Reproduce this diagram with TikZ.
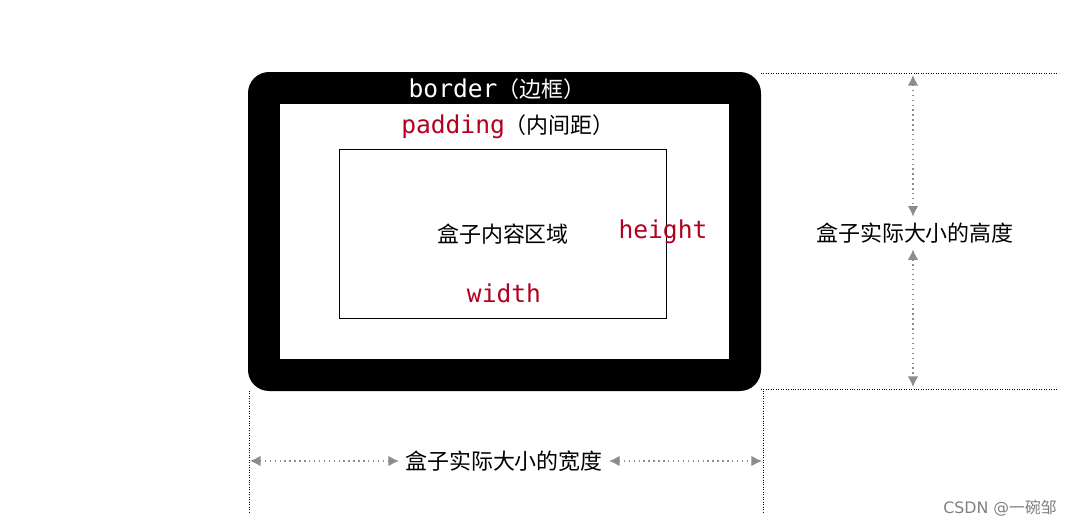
\documentclass[tikz,border=0pt]{standalone}
\usepackage{fontspec}
\setmainfont{DejaVu Sans}
\setmonofont{DejaVu Sans Mono}
\newfontfamily\cjk{Noto Sans CJK SC}
\usetikzlibrary{arrows.meta}
\definecolor{codered}{RGB}{180,0,30}
\newcommand\codefont{\ttfamily\fontsize{14}{16}\selectfont}
\newcommand\cjkfont{\cjk\fontsize{12.5}{14}\selectfont}
\tikzset{
  cjktext/.style={font=\cjkfont},
  codetext/.style={font=\codefont},
  guide/.style={densely dotted,black},
  measure/.style={dotted,gray!90,thick,{Latex[length=6pt,width=6pt]}-{Latex[length=6pt,width=6pt]}}
}
\begin{document}
\begin{tikzpicture}[x=0.02cm,y=-0.02cm]
  \useasboundingbox (0,0) rectangle (1066,524);
  % box
  \fill[black,rounded corners=12] (248,72) rectangle (761,391);
  \fill[white] (280,104) rectangle (729,359);
  \draw[black,thin] (339,149) rectangle (666,318);
  \node[anchor=base,white] (border) at (497,97) {{\codefont border}{\cjkfont （边框）}};
  \node[anchor=base] (padding) at (508,133) {{\codefont\color{codered}padding}{\cjkfont （内间距）}};
  \node[cjktext] (content) at (503,234) {盒子内容区域};
  \node[codetext,text=codered] (height) at (663,232) {height};
  \node[codetext,text=codered] (width) at (504,293) {width};
  % guides
  \draw[guide] (761,73) -- (1058,73);
  \draw[guide] (761,389) -- (1058,389);
  \draw[guide] (249,391) -- (249,512);
  \draw[guide] (763,391) -- (763,512);
  % measures
  \node[cjktext] (hlabel) at (915,233) {盒子实际大小的高度};
  \coordinate (htop) at (913,75);
  \coordinate (hbot) at (913,387);
  \draw[measure] (htop) -- (hlabel.north -| htop);
  \draw[measure] (hlabel.south -| htop) -- (hbot);
  \node[cjktext] (wlabel) at (504,461) {盒子实际大小的宽度};
  \coordinate (wleft) at (250,461);
  \coordinate (wright) at (762,461);
  \draw[measure] (wleft) -- (wlabel.west);
  \draw[measure] (wlabel.east) -- (wright);
  \node[gray,font=\fontsize{9}{10}\selectfont] (mark) at (1000,508) {CSDN @{\cjk 一碗邹}};
\end{tikzpicture}
\end{document}
